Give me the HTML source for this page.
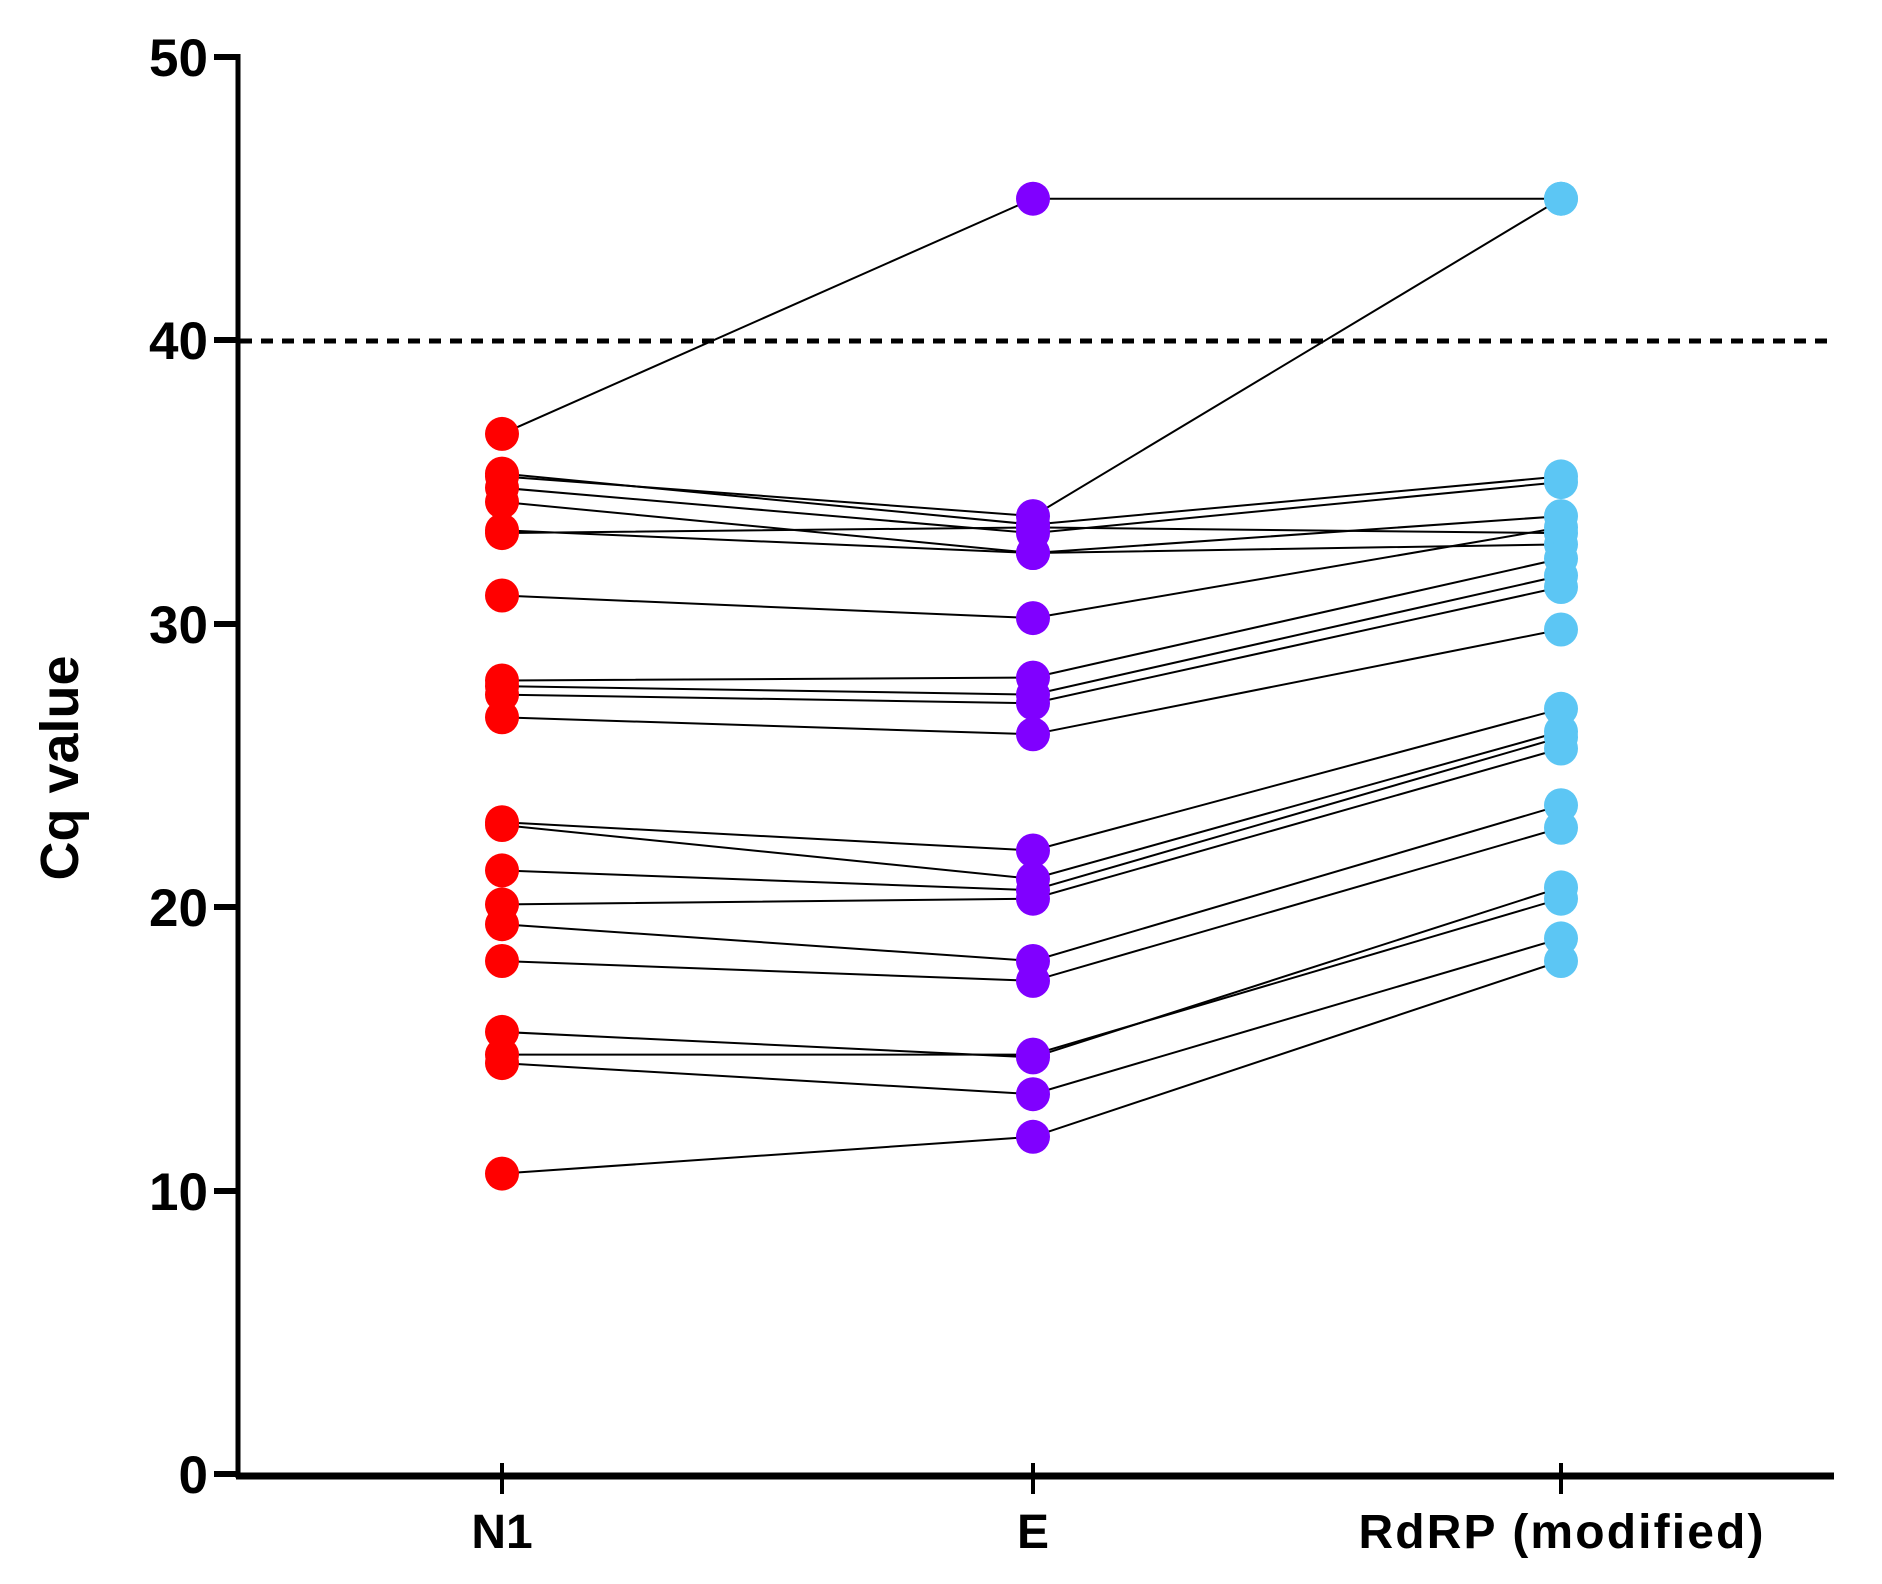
<!DOCTYPE html>
<html><head><meta charset="utf-8">
<style>
html,body{margin:0;padding:0;background:#fff;}
svg{display:block;}
text{font-family:"Liberation Sans",Arial,sans-serif;fill:#000;}
</style></head>
<body>
<svg id="c" width="1882" height="1584" viewBox="0 0 1882 1584" xmlns="http://www.w3.org/2000/svg">
<g id="lines" stroke="#000" stroke-width="2" fill="none"></g>
<g id="pts"></g>
<line x1="238" y1="54" x2="238" y2="1478" stroke="#000" stroke-width="5"/>
<line x1="236" y1="1476" x2="1834" y2="1476" stroke="#000" stroke-width="7"/>
<line x1="240" y1="341" x2="1834" y2="341" stroke="#000" stroke-width="5" stroke-dasharray="12,9"/>
<g stroke="#000" stroke-width="6">
<line x1="214" y1="57" x2="238" y2="57"/>
<line x1="214" y1="340" x2="238" y2="340"/>
<line x1="214" y1="624" x2="238" y2="624"/>
<line x1="214" y1="907" x2="238" y2="907"/>
<line x1="214" y1="1191" x2="238" y2="1191"/>
<line x1="214" y1="1474" x2="238" y2="1474"/>
</g>
<g stroke="#000" stroke-width="4">
<line x1="502" y1="1463" x2="502" y2="1494"/>
<line x1="1033" y1="1463" x2="1033" y2="1494"/>
<line x1="1561" y1="1463" x2="1561" y2="1494"/>
</g>
<g font-size="53" font-weight="bold" text-anchor="end">
<text x="208" y="76">50</text>
<text x="208" y="359">40</text>
<text x="208" y="643">30</text>
<text x="208" y="926">20</text>
<text x="208" y="1210">10</text>
<text x="208" y="1493">0</text>
</g>
<g font-size="48" font-weight="bold" text-anchor="middle">
<text x="502" y="1548">N1</text>
<text x="1033" y="1548">E</text>
<text x="1561" y="1548" textLength="405">RdRP (modified)</text>
</g>
<text transform="translate(78,768) rotate(-90)" font-size="54" font-weight="bold" text-anchor="middle">Cq value</text>
</svg>
<script>
var data=[[36.7,45,45],[35.2,33.8,45],[35.3,33.5,35.2],[34.8,33.2,35],[34.3,32.5,33.8],[33.2,33.4,33.2],[33.3,32.5,32.8],[31,30.2,33.4],[28,28.1,32.3],[27.8,27.5,31.7],[27.5,27.2,31.3],[26.7,26.1,29.8],[23,22,27],[22.9,21,26.2],[21.3,20.6,26],[20.1,20.3,25.6],[19.4,18.1,23.6],[18.1,17.4,22.8],[15.6,14.7,20.7],[14.8,14.8,20.3],[14.5,13.4,18.9],[10.6,11.9,18.1]];
var xs=[502,1033,1561],cols=["#ff0000","#8000ff","#5cc6f4"];
function y(v){return 1474-28.34*v;}
var ns="http://www.w3.org/2000/svg",L=document.getElementById("lines"),P=document.getElementById("pts");
data.forEach(function(d){
 var pl=document.createElementNS(ns,"polyline");
 pl.setAttribute("points",d.map(function(v,i){return xs[i]+","+y(v).toFixed(1)}).join(" "));
 L.appendChild(pl);
});
for(var i=0;i<3;i++)data.forEach(function(d){
 var c=document.createElementNS(ns,"circle");
 c.setAttribute("cx",xs[i]);c.setAttribute("cy",y(d[i]).toFixed(1));c.setAttribute("r",17);c.setAttribute("fill",cols[i]);
 P.appendChild(c);
});
</script>
</body></html>
